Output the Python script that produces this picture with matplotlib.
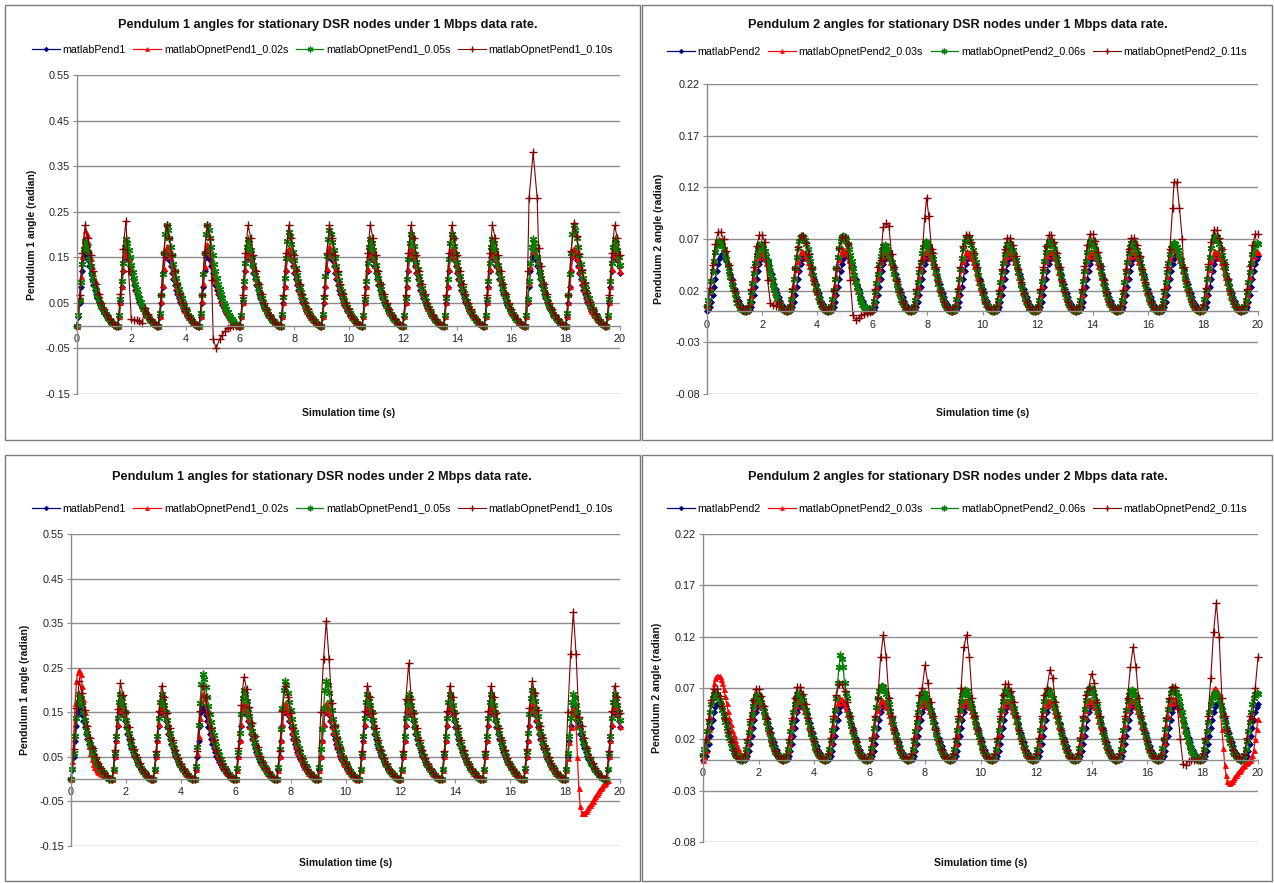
import numpy as np
import matplotlib
matplotlib.use("Agg")
import matplotlib.pyplot as plt
from matplotlib.patches import Rectangle
from matplotlib.lines import Line2D

plt.rcParams['font.family'] = ['Liberation Sans', 'DejaVu Sans']

# ------------------------------------------------------------------ data
T_END = 20.0
DT = 0.05
CYCLE_STARTS = [0.0, 1.5, 3.0, 4.5, 6.0, 7.5, 9.0, 10.5, 12.0, 13.5, 15.0, 16.5, 18.0, 19.5]

# one pulse of pendulum 1 (matlab), read every 0.05 s from the cycle start
P1_PULSE = [0.000, 0.020, 0.050, 0.085, 0.120, 0.150, 0.165, 0.158, 0.145, 0.130,
            0.116, 0.102, 0.090, 0.079, 0.069, 0.060, 0.052, 0.045, 0.038, 0.032,
            0.027, 0.022, 0.018, 0.014, 0.011, 0.008, 0.005, 0.003, 0.001, 0.000]
P1_PULSE_PEAK = 0.165
# one pulse of pendulum 2 (matlab), read every 0.05 s from the cycle start
P2_PULSE = [0.000, 0.001, 0.004, 0.009, 0.016, 0.024, 0.032, 0.040, 0.047, 0.052,
            0.055, 0.056, 0.055, 0.053, 0.050, 0.046, 0.042, 0.037, 0.032, 0.027,
            0.022, 0.018, 0.014, 0.010, 0.007, 0.005, 0.003, 0.002, 0.001, 0.000]
P2_PULSE_PEAK = 0.056

# per-cycle peak values, 1 Mbps
P1_1M_BLUE = [0.165, 0.165, 0.165, 0.165, 0.165, 0.165, 0.165, 0.165, 0.165, 0.165, 0.165, 0.165, 0.165, 0.165]
P1_1M_RED = [0.21, 0.17, 0.175, 0.18, 0.17, 0.17, 0.175, 0.17, 0.17, 0.17, 0.17, 0.18, 0.17, 0.17]
P1_1M_GREEN = [0.185, 0.19, 0.22, 0.22, 0.19, 0.205, 0.21, 0.19, 0.20, 0.20, 0.19, 0.19, 0.22, 0.19]
P1_1M_DKRED = [0.22, 0.23, 0.22, 0.22, 0.22, 0.22, 0.22, 0.22, 0.22, 0.22, 0.22, 0.22, 0.225, 0.22]

P2_1M_BLUE = [0.055, 0.055, 0.055, 0.055, 0.055, 0.055, 0.055, 0.055, 0.055, 0.055, 0.055, 0.055, 0.055, 0.055]
P2_1M_RED = [0.070, 0.057, 0.058, 0.060, 0.058, 0.058, 0.058, 0.058, 0.058, 0.058, 0.058, 0.060, 0.058, 0.058]
P2_1M_GREEN = [0.068, 0.065, 0.073, 0.073, 0.064, 0.067, 0.072, 0.066, 0.068, 0.068, 0.067, 0.066, 0.073, 0.066]
P2_1M_DKRED = [0.078, 0.075, 0.074, 0.073, 0.075, 0.075, 0.075, 0.072, 0.075, 0.076, 0.072, 0.075, 0.080, 0.076]

# per-cycle peak values, 2 Mbps
P1_2M_BLUE = [0.165, 0.165, 0.165, 0.165, 0.165, 0.165, 0.165, 0.165, 0.165, 0.165, 0.165, 0.165, 0.165, 0.165]
P1_2M_RED = [0.245, 0.17, 0.17, 0.19, 0.17, 0.17, 0.17, 0.17, 0.17, 0.17, 0.17, 0.17, 0.16, 0.17]
P1_2M_GREEN = [0.19, 0.19, 0.19, 0.235, 0.20, 0.22, 0.22, 0.19, 0.19, 0.19, 0.19, 0.20, 0.19, 0.19]
P1_2M_DKRED = [0.22, 0.215, 0.21, 0.21, 0.23, 0.21, 0.22, 0.21, 0.21, 0.21, 0.21, 0.22, 0.22, 0.21]

P2_2M_BLUE = [0.055, 0.055, 0.055, 0.055, 0.055, 0.055, 0.055, 0.055, 0.055, 0.055, 0.055, 0.055, 0.055, 0.055]
P2_2M_RED = [0.082, 0.058, 0.058, 0.060, 0.058, 0.058, 0.058, 0.058, 0.058, 0.058, 0.058, 0.060, 0.070, 0.058]
P2_2M_GREEN = [0.065, 0.063, 0.065, 0.068, 0.072, 0.065, 0.068, 0.068, 0.068, 0.070, 0.068, 0.070, 0.065, 0.065]
P2_2M_DKRED = [0.070, 0.070, 0.072, 0.075, 0.075, 0.075, 0.075, 0.075, 0.075, 0.075, 0.075, 0.072, 0.075, 0.075]

# irregular stretches: (time, angle)
P1_1M_DKRED_EVENTS = [
    [(1.9, 0.12), (2.0, 0.015), (2.1, 0.012), (2.2, 0.012), (2.3, 0.010), (2.4, 0.006)],
    [(4.9, 0.19), (4.96, 0.10), (5.02, -0.03), (5.12, -0.05), (5.25, -0.03), (5.35, -0.02),
     (5.45, -0.012), (5.55, -0.006), (5.65, -0.003), (5.75, 0.0), (5.85, 0.0), (5.95, 0.0)],
    [(16.6, 0.12), (16.65, 0.28), (16.8, 0.38), (16.95, 0.28), (17.0, 0.17), (17.1, 0.13)],
]
P2_1M_DKRED_EVENTS = [
    [(2.2, 0.030), (2.3, 0.008), (2.4, 0.006), (2.5, 0.005)],
    [(5.1, 0.065), (5.2, 0.030), (5.3, -0.004), (5.4, -0.008), (5.5, -0.006), (5.6, -0.004),
     (5.7, -0.003), (5.8, -0.002), (5.9, -0.001), (6.0, 0.0)],
    [(6.3, 0.050), (6.4, 0.082), (6.5, 0.085), (6.6, 0.083), (6.7, 0.055)],
    [(7.8, 0.050), (7.9, 0.090), (7.97, 0.110), (8.05, 0.092), (8.15, 0.060)],
    [(16.8, 0.060), (16.9, 0.100), (16.95, 0.125), (17.05, 0.125), (17.15, 0.100), (17.25, 0.070)],
]
P1_2M_RED_EVENTS = [
    [(0.0, 0.0), (0.05, 0.04), (0.1, 0.10), (0.15, 0.17), (0.2, 0.22), (0.25, 0.24), (0.3, 0.245),
     (0.35, 0.235), (0.4, 0.21), (0.45, 0.18), (0.5, 0.15), (0.55, 0.12), (0.6, 0.095), (0.65, 0.075),
     (0.7, 0.058), (0.75, 0.045), (0.8, 0.035), (0.85, 0.028), (0.9, 0.022), (0.95, 0.018),
     (1.0, 0.015), (1.05, 0.013), (1.1, 0.011), (1.15, 0.009), (1.2, 0.008), (1.25, 0.006),
     (1.3, 0.005), (1.35, 0.004), (1.4, 0.003), (1.45, 0.001)],
    [(18.4, 0.12), (18.45, 0.05), (18.5, -0.02), (18.55, -0.06), (18.6, -0.075), (18.65, -0.077),
     (18.7, -0.075), (18.75, -0.072), (18.8, -0.068), (18.85, -0.063), (18.9, -0.058), (18.95, -0.053),
     (19.0, -0.048), (19.05, -0.043), (19.1, -0.038), (19.15, -0.033), (19.2, -0.028), (19.25, -0.024),
     (19.3, -0.020), (19.35, -0.016), (19.4, -0.012), (19.45, -0.008), (19.5, -0.005), (19.55, -0.002)],
]
P1_2M_DKRED_EVENTS = [
    [(9.1, 0.15), (9.2, 0.27), (9.3, 0.355), (9.4, 0.27), (9.5, 0.17)],
    [(12.2, 0.18), (12.3, 0.26), (12.4, 0.18)],
    [(18.1, 0.15), (18.2, 0.28), (18.3, 0.375), (18.4, 0.28), (18.5, 0.14)],
]
P2_2M_RED_EVENTS = [
    [(0.0, 0.0), (0.05, 0.004), (0.1, 0.010), (0.15, 0.019), (0.2, 0.030), (0.25, 0.042), (0.3, 0.055),
     (0.35, 0.066), (0.4, 0.075), (0.45, 0.080), (0.5, 0.082), (0.55, 0.082), (0.6, 0.082),
     (0.65, 0.079), (0.7, 0.075), (0.75, 0.069), (0.8, 0.062), (0.85, 0.055), (0.9, 0.048),
     (0.95, 0.041), (1.0, 0.035), (1.05, 0.029), (1.1, 0.024), (1.15, 0.019), (1.2, 0.015),
     (1.25, 0.012), (1.3, 0.009), (1.35, 0.006), (1.4, 0.004)],
    [(18.6, 0.060), (18.65, 0.045), (18.7, 0.030), (18.75, 0.012), (18.8, -0.005), (18.85, -0.015),
     (18.9, -0.021), (18.95, -0.023), (19.0, -0.022), (19.05, -0.021), (19.1, -0.019), (19.15, -0.017),
     (19.2, -0.015), (19.25, -0.013), (19.3, -0.011), (19.35, -0.010), (19.4, -0.008), (19.45, -0.006),
     (19.5, -0.005), (19.55, -0.003), (19.6, -0.002), (19.65, -0.001), (19.7, 0.0), (19.75, 0.002),
     (19.8, 0.005), (19.85, 0.010), (19.9, 0.020), (19.95, 0.030), (20.0, 0.040)],
]
P2_2M_GREEN_EVENTS = [
    [(4.8, 0.060), (4.85, 0.075), (4.9, 0.090), (4.95, 0.102), (5.0, 0.098), (5.05, 0.090),
     (5.1, 0.075), (5.15, 0.065), (5.2, 0.060)],
]
P2_2M_DKRED_EVENTS = [
    [(6.3, 0.060), (6.4, 0.100), (6.5, 0.122), (6.6, 0.100), (6.7, 0.060)],
    [(7.9, 0.070), (8.0, 0.092), (8.1, 0.075)],
    [(9.3, 0.070), (9.4, 0.110), (9.5, 0.122), (9.6, 0.100), (9.7, 0.060)],
    [(12.4, 0.070), (12.5, 0.088), (12.6, 0.080)],
    [(13.9, 0.070), (14.0, 0.084), (14.1, 0.075)],
    [(15.3, 0.060), (15.4, 0.090), (15.5, 0.110), (15.6, 0.090), (15.7, 0.060)],
    [(17.1, 0.050), (17.2, 0.020), (17.3, -0.004), (17.4, -0.005), (17.5, -0.001), (17.6, 0.0),
     (17.7, 0.0), (17.8, 0.001)],
    [(18.3, 0.080), (18.4, 0.125), (18.5, 0.153), (18.6, 0.120), (18.7, 0.060)],
    [(19.8, 0.040), (19.9, 0.070), (20.0, 0.100)],
]

X_TICKS = [0, 2, 4, 6, 8, 10, 12, 14, 16, 18, 20]
P1_Y_TICKS = [-0.15, -0.05, 0.05, 0.15, 0.25, 0.35, 0.45, 0.55]
P2_Y_TICKS = [-0.08, -0.03, 0.02, 0.07, 0.12, 0.17, 0.22]

P1_LABELS = ['matlabPend1', 'matlabOpnetPend1_0.02s', 'matlabOpnetPend1_0.05s', 'matlabOpnetPend1_0.10s']
P2_LABELS = ['matlabPend2', 'matlabOpnetPend2_0.03s', 'matlabOpnetPend2_0.06s', 'matlabOpnetPend2_0.11s']

TITLES = ['Pendulum 1 angles for stationary DSR nodes under 1 Mbps data rate.',
          'Pendulum 2 angles for stationary DSR nodes under 1 Mbps data rate.',
          'Pendulum 1 angles for stationary DSR nodes under 2 Mbps data rate.',
          'Pendulum 2 angles for stationary DSR nodes under 2 Mbps data rate.']
Y_LABELS = ['Pendulum 1 angle (radian)', 'Pendulum 2 angle (radian)']
X_LABEL = 'Simulation time (s)'


def build_series(peaks, pulse, pulse_peak, step=1, shift=0.0, events=()):
    ts, vs = [], []
    for start, peak in zip(CYCLE_STARTS, peaks):
        for i in range(0, len(pulse), step):
            t = round(start + shift + i * DT, 4)
            if t < 0 or t > T_END + 1e-9:
                continue
            ts.append(t)
            vs.append(pulse[i] * peak / pulse_peak)
    ts = np.array(ts)
    vs = np.array(vs)
    for ev in events:
        et = np.array([p[0] for p in ev])
        ev_v = np.array([p[1] for p in ev])
        keep = (ts < et.min() - 1e-6) | (ts > et.max() + 1e-6)
        ts = np.concatenate([ts[keep], et])
        vs = np.concatenate([vs[keep], ev_v])
    order = np.argsort(ts, kind='stable')
    return ts[order], vs[order]


# ------------------------------------------------------------------ styles
W, H = 1274, 883
fig = plt.figure(figsize=(W / 100, H / 100), dpi=100)
fig.patch.set_facecolor('white')

C_BLUE, C_RED, C_GREEN, C_DKRED = '#000080', '#FF0000', '#008000', '#800000'
STYLES = [
    dict(color=C_BLUE, marker='D', ms=3.0, mew=0.6, lw=0.9),
    dict(color=C_RED, marker='^', ms=3.6, mew=0.6, lw=0.9),
    dict(color=C_GREEN, marker=(6, 2, 0), ms=5.5, mew=1.0, lw=0.9),
    dict(color=C_DKRED, marker='+', ms=6.0, mew=1.0, lw=0.8),
]
GRID_C = '#8c8c8c'

# panel frames (pixels: left, top, right, bottom)
FRAMES = [(5, 5, 640, 440), (642, 5, 1272, 440), (5, 455, 640, 881), (642, 455, 1272, 881)]
for (l, t, r, b) in FRAMES:
    fig.patches.append(Rectangle((l / W, 1 - b / H), (r - l) / W, (b - t) / H,
                                 transform=fig.transFigure, fill=False,
                                 edgecolor='#7a7a7a', lw=1.0))

PANELS = [
    dict(ax=(77, 620, 75, 394), ylim=(-0.15, 0.55), yticks=P1_Y_TICKS, labels=P1_LABELS,
         ylab=Y_LABELS[0], ylab_x=32, title_xy=(328, 25), leg_y=50, xlab_y=413,
         series=[(P1_1M_BLUE, 1, 0.0, ()), (P1_1M_RED, 1, 0.0, ()),
                 (P1_1M_GREEN, 1, 0.0, ()), (P1_1M_DKRED, 2, 0.0, P1_1M_DKRED_EVENTS)],
         pulse=P1_PULSE, pulse_peak=P1_PULSE_PEAK),
    dict(ax=(707, 1258, 84, 394), ylim=(-0.08, 0.22), yticks=P2_Y_TICKS, labels=P2_LABELS,
         ylab=Y_LABELS[1], ylab_x=659, title_xy=(958, 25), leg_y=52, xlab_y=413,
         series=[(P2_1M_BLUE, 1, 0.0, ()), (P2_1M_RED, 1, -0.1, ()),
                 (P2_1M_GREEN, 1, -0.1, ()), (P2_1M_DKRED, 2, -0.1, P2_1M_DKRED_EVENTS)],
         pulse=P2_PULSE, pulse_peak=P2_PULSE_PEAK),
    dict(ax=(71, 620, 534, 846), ylim=(-0.15, 0.55), yticks=P1_Y_TICKS, labels=P1_LABELS,
         ylab=Y_LABELS[0], ylab_x=25, title_xy=(322, 477), leg_y=509, xlab_y=863,
         series=[(P1_2M_BLUE, 1, 0.0, ()), (P1_2M_RED, 1, 0.0, P1_2M_RED_EVENTS),
                 (P1_2M_GREEN, 1, 0.0, ()), (P1_2M_DKRED, 2, 0.0, P1_2M_DKRED_EVENTS)],
         pulse=P1_PULSE, pulse_peak=P1_PULSE_PEAK),
    dict(ax=(703, 1258, 534, 842), ylim=(-0.08, 0.22), yticks=P2_Y_TICKS, labels=P2_LABELS,
         ylab=Y_LABELS[1], ylab_x=657, title_xy=(958, 477), leg_y=509, xlab_y=863,
         series=[(P2_2M_BLUE, 1, 0.0, ()), (P2_2M_RED, 1, -0.1, P2_2M_RED_EVENTS),
                 (P2_2M_GREEN, 1, -0.1, P2_2M_GREEN_EVENTS), (P2_2M_DKRED, 2, -0.1, P2_2M_DKRED_EVENTS)],
         pulse=P2_PULSE, pulse_peak=P2_PULSE_PEAK),
]

for k, p in enumerate(PANELS):
    l, r, t, b = p['ax']
    ax = fig.add_axes([l / W, 1 - b / H, (r - l) / W, (b - t) / H])
    for (peaks, step, shift, events), st in zip(p['series'], STYLES):
        xs, ys = build_series(peaks, p['pulse'], p['pulse_peak'], step, shift, events)
        ax.plot(xs, ys, linestyle='-', color=st['color'], lw=st['lw'], marker=st['marker'],
                ms=st['ms'], mew=st['mew'], mec=st['color'], mfc=st['color'], clip_on=False)
    ax.set_xlim(0, 20)
    ax.set_ylim(*p['ylim'])
    ax.set_xticks(X_TICKS)
    ax.set_xticklabels([str(v) for v in X_TICKS])
    ax.set_yticks(p['yticks'])
    ax.set_yticklabels(['%.2f' % v for v in p['yticks']])
    ax.set_axisbelow(True)
    ax.grid(axis='y', color=GRID_C, lw=1.0)
    ax.grid(axis='x', visible=False)
    for s in ('top', 'right'):
        ax.spines[s].set_visible(False)
    ax.spines['left'].set_color(GRID_C)
    ax.spines['left'].set_linewidth(1.0)
    ax.spines['bottom'].set_position(('data', 0))
    ax.spines['bottom'].set_color(GRID_C)
    ax.spines['bottom'].set_linewidth(1.0)
    ax.tick_params(axis='both', labelsize=7.8, length=3, width=0.8, direction='out', pad=2)
    ax.tick_params(axis='x', pad=3, colors=GRID_C, labelcolor='#222222')
    ax.tick_params(axis='y', colors=GRID_C, labelcolor='#222222')
    ax.set_facecolor('white')

    fig.text(p['title_xy'][0] / W, 1 - p['title_xy'][1] / H, TITLES[k], ha='center', va='center',
             fontsize=9.2, fontweight='bold', color='#111111')
    fig.text(p['ylab_x'] / W, 1 - ((t + b) / 2) / H, p['ylab'], ha='center', va='center',
             rotation=90, fontsize=7.5, fontweight='bold', color='#111111')
    fig.text(((l + r) / 2) / W, 1 - p['xlab_y'] / H, X_LABEL, ha='center', va='center',
             fontsize=7.5, fontweight='bold', color='#111111')

    handles = [Line2D([], [], color=st['color'], lw=st['lw'], marker=st['marker'],
                      ms=st['ms'] * 0.75, mew=st['mew'], mec=st['color'], mfc=st['color'])
               for st in STYLES]
    fl, ft, fr, fb = FRAMES[k]
    fig.legend(handles, p['labels'], loc='center', ncol=4, frameon=False, fontsize=7.7,
               bbox_to_anchor=(((fl + fr) / 2) / W, 1 - p['leg_y'] / H),
               handlelength=2.6, handletextpad=0.25, columnspacing=0.7, borderpad=0)

fig.savefig('out.png', dpi=100, facecolor='white')
